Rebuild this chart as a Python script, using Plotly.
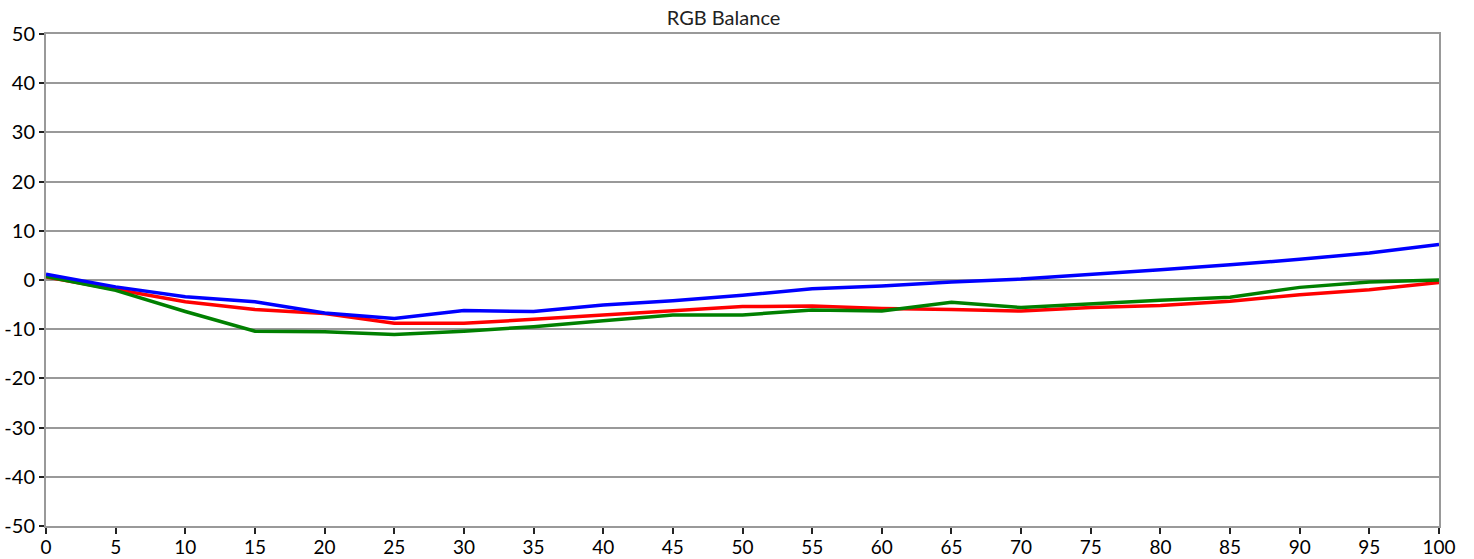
import plotly.graph_objects as go

x_vals = [0, 5, 10, 15, 20, 25, 30, 35, 40, 45, 50, 55, 60, 65, 70, 75, 80, 85, 90, 95, 100]
red_vals = [0.6, -1.9, -4.4, -6.0, -6.8, -8.8, -8.8, -8.0, -7.1, -6.3, -5.4, -5.3, -5.8, -6.0, -6.3, -5.6, -5.2, -4.3, -3.0, -2.0, -0.5]
green_vals = [0.7, -2.1, -6.4, -10.4, -10.5, -11.1, -10.4, -9.5, -8.3, -7.1, -7.1, -6.1, -6.3, -4.5, -5.6, -4.8, -4.1, -3.5, -1.5, -0.4, 0.0]
blue_vals = [1.2, -1.4, -3.4, -4.4, -6.7, -7.8, -6.2, -6.4, -5.1, -4.2, -3.1, -1.8, -1.2, -0.4, 0.2, 1.1, 2.1, 3.1, 4.2, 5.5, 7.2]
y_ticks = [-50, -40, -30, -20, -10, 0, 10, 20, 30, 40, 50]
y_tick_labels = ["-50", "-40", "-30", "-20", "-10", "0", "10", "20", "30", "40", "50"]
title_text = "RGB Balance"

fig = go.Figure()
for name, vals, col in [("Red", red_vals, "#ff0000"), ("Green", green_vals, "#008000"), ("Blue", blue_vals, "#0000ff")]:
    fig.add_trace(go.Scatter(x=x_vals, y=vals, mode="lines", name=name,
                             line=dict(color=col, width=3.5)))

W, H = 1474, 559
grid = "#999999"
fig.update_layout(
    width=W, height=H,
    margin=dict(l=46, r=35, t=34, b=33, autoexpand=False),
    paper_bgcolor="white", plot_bgcolor="white",
    showlegend=False,
    font=dict(family="Lato, sans-serif", color="black"),
    title=dict(text=title_text, x=0.4864, xref="paper", y=1 - 18 / H, yref="container",
               xanchor="center", yanchor="middle", font=dict(size=20, color="#222")),
    xaxis=dict(range=[0, 100], tickvals=x_vals, ticks="outside", ticklen=6, tickwidth=2,
               tickcolor="#222", showgrid=False, showline=True, linecolor=grid, linewidth=2,
               mirror=True, zeroline=False, tickfont=dict(size=19), automargin=False,
               ticklabelstandoff=-3),
    yaxis=dict(range=[-50, 50], tickvals=y_ticks, ticktext=y_tick_labels, ticks="outside",
               ticklen=5, tickwidth=2,
               tickcolor="#222", showgrid=True, gridcolor=grid, gridwidth=2,
               showline=True, linecolor=grid, linewidth=2, mirror=True,
               zeroline=True, zerolinecolor=grid, zerolinewidth=2,
               tickfont=dict(size=20), automargin=False),
)
fig.write_html("out.html", config={"displayModeBar": False},
               post_script="document.body.style.margin='0px';")
